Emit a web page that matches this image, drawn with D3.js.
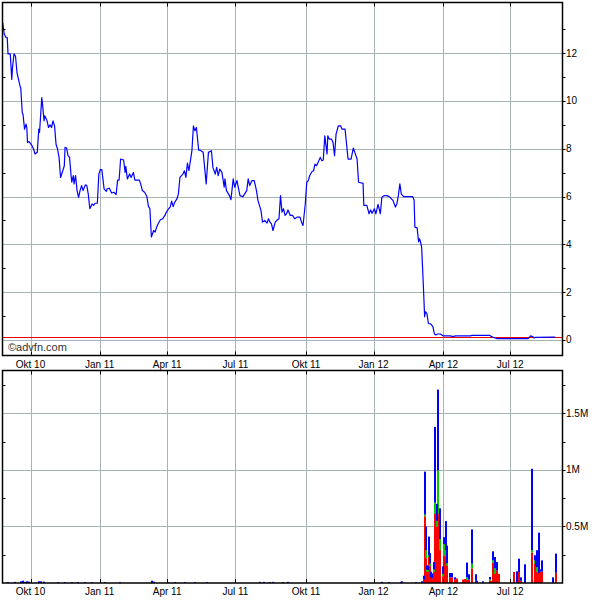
<!DOCTYPE html>
<html><head><meta charset="utf-8">
<script src="https://cdn.jsdelivr.net/npm/d3@7"></script>
<style>
body{margin:0;background:#fff}
svg{display:block}
text{font-family:"Liberation Sans",Arial,sans-serif;font-size:10px;fill:#000}
</style>
</head><body>
<svg id="c" width="600" height="600"></svg>
<script>
// ---------- DATA ----------
const tickDates  = ["2010-10-01","2011-01-01","2011-04-01","2011-07-01","2011-10-03","2012-01-01","2012-04-03","2012-07-01"];
const tickLabels = ["Okt 10","Jan 11","Apr 11","Jul 11","Okt 11","Jan 12","Apr 12","Jul 12"];
const priceTicks = [0,2,4,6,8,10,12];
const priceMinorTicks = [1,3,5,7,9,11,13];
const volTicks = [500,1000,1500];              // thousands of shares
const volTickLabels = ["0.5M","1M","1.5M"];
const volMinorTicks = [250,750,1250,1750];

const priceDates = [
"2010-08-25","2010-08-27","2010-08-29","2010-08-31",
"2010-09-01","2010-09-04","2010-09-06","2010-09-07","2010-09-09","2010-09-11","2010-09-13","2010-09-15","2010-09-17","2010-09-18","2010-09-20","2010-09-21","2010-09-23","2010-09-25","2010-09-26","2010-09-27","2010-09-29",
"2010-10-03","2010-10-05","2010-10-07","2010-10-10","2010-10-12","2010-10-13","2010-10-16","2010-10-17","2010-10-19","2010-10-20","2010-10-23","2010-10-25","2010-10-27","2010-10-29","2010-10-31",
"2010-11-02","2010-11-04","2010-11-06","2010-11-08","2010-11-10","2010-11-13","2010-11-15","2010-11-16","2010-11-18","2010-11-20","2010-11-22","2010-11-24","2010-11-25","2010-11-27","2010-11-28","2010-11-30",
"2010-12-02","2010-12-04","2010-12-06","2010-12-08","2010-12-10","2010-12-13","2010-12-15","2010-12-17","2010-12-19","2010-12-22","2010-12-24","2010-12-26","2010-12-29","2010-12-31",
"2011-01-02","2011-01-04","2011-01-07","2011-01-10","2011-01-11","2011-01-14","2011-01-17","2011-01-20","2011-01-23","2011-01-25","2011-01-27","2011-01-29",
"2011-02-02","2011-02-04","2011-02-05","2011-02-07","2011-02-10","2011-02-12","2011-02-15","2011-02-17","2011-02-23","2011-02-25","2011-02-27",
"2011-03-02","2011-03-05","2011-03-07","2011-03-09","2011-03-11","2011-03-14","2011-03-16","2011-03-18","2011-03-20","2011-03-23","2011-03-26","2011-03-29","2011-03-31",
"2011-04-03","2011-04-05","2011-04-07","2011-04-09","2011-04-11","2011-04-14","2011-04-16","2011-04-18","2011-04-22","2011-04-24","2011-04-26","2011-04-28","2011-04-30",
"2011-05-04","2011-05-06","2011-05-08","2011-05-10","2011-05-13","2011-05-15","2011-05-19","2011-05-23","2011-05-26","2011-05-30",
"2011-06-01","2011-06-04","2011-06-06","2011-06-08","2011-06-10","2011-06-13","2011-06-16","2011-06-17","2011-06-19","2011-06-23","2011-06-25","2011-06-28","2011-06-30",
"2011-07-03","2011-07-07","2011-07-11","2011-07-16","2011-07-18","2011-07-20","2011-07-23","2011-07-26","2011-07-29","2011-07-31",
"2011-08-04","2011-08-06","2011-08-09","2011-08-12","2011-08-14","2011-08-16","2011-08-18","2011-08-20","2011-08-23","2011-08-26","2011-08-28","2011-08-30",
"2011-09-01","2011-09-03","2011-09-05","2011-09-07","2011-09-09","2011-09-12","2011-09-15","2011-09-18","2011-09-21","2011-09-25","2011-09-27","2011-09-29",
"2011-10-02","2011-10-04","2011-10-06","2011-10-08","2011-10-11","2011-10-13","2011-10-15","2011-10-17","2011-10-19","2011-10-22","2011-10-24","2011-10-26","2011-10-28","2011-10-31",
"2011-11-01","2011-11-03","2011-11-06","2011-11-08","2011-11-10","2011-11-12","2011-11-15","2011-11-18","2011-11-20","2011-11-24","2011-11-28",
"2011-12-02","2011-12-05","2011-12-07","2011-12-10","2011-12-12","2011-12-18","2011-12-19","2011-12-23","2011-12-26","2011-12-28","2011-12-30",
"2012-01-02","2012-01-04","2012-01-07","2012-01-10","2012-01-12","2012-01-15","2012-01-19","2012-01-23","2012-01-27","2012-01-30",
"2012-02-01","2012-02-03","2012-02-05","2012-02-07","2012-02-10","2012-02-18","2012-02-22","2012-02-24","2012-02-25","2012-02-28",
"2012-03-01","2012-03-02","2012-03-03","2012-03-05","2012-03-07","2012-03-09","2012-03-10","2012-03-12","2012-03-14","2012-03-17","2012-03-20","2012-03-22","2012-03-24","2012-03-26","2012-03-30",
"2012-04-03","2012-04-12","2012-04-16","2012-04-19",
"2012-05-09","2012-05-11",
"2012-06-04","2012-06-06","2012-06-11","2012-06-13",
"2012-07-25","2012-07-28","2012-07-31",
"2012-08-02","2012-08-03","2012-08-30"
];
const priceValues = [
13.26,12.8,12.67,12.64,
11.97,11.97,10.9,11.4,11.97,11.87,11.18,10.9,10.63,10.53,9.51,9.44,8.82,9.03,8.89,8.26,8.3,
8.13,7.99,7.78,7.85,8.82,8.68,10.14,9.86,9.17,9.38,9.17,8.89,9.0,8.89,9.17,
8.96,8.19,7.99,7.64,6.8,7.08,7.29,8.06,8.03,7.71,7.64,6.88,6.6,6.88,6.53,6.88,
6.25,5.97,6.25,6.46,6.25,6.49,6.46,6.08,5.49,5.69,5.63,5.72,5.72,6.94,
7.13,7.13,6.32,6.22,6.32,6.35,6.15,6.18,6.08,6.69,6.69,7.57,
7.53,7.01,7.26,6.74,6.94,6.8,7.01,6.69,6.69,6.5,6.25,
6.18,6.0,5.6,5.49,4.31,4.58,4.51,4.72,4.86,5.03,5.07,5.21,5.35,
5.49,5.56,5.81,5.58,5.76,5.9,6.11,6.8,6.94,7.08,6.8,7.4,7.08,
7.92,8.96,8.75,8.89,7.94,7.94,7.85,6.53,7.85,7.92,
7.22,6.94,7.22,6.88,7.15,7.01,6.39,6.74,6.25,6.04,5.87,6.74,6.39,
6.67,6.04,6.0,6.25,6.74,6.46,6.67,6.67,6.25,5.83,
5.42,4.93,5.0,4.89,5.07,4.93,4.86,4.58,4.93,5.03,5.07,6.04,
5.35,5.49,5.21,5.28,5.44,5.21,5.21,5.07,5.14,5.14,4.93,4.79,
5.69,6.6,6.67,6.88,7.05,7.08,7.36,7.29,7.43,7.64,7.5,7.53,8.54,7.78,
8.54,8.4,8.4,8.26,7.71,8.61,8.96,8.96,8.82,8.82,7.57,
7.57,8.03,7.85,7.57,6.6,6.55,5.63,5.63,5.28,5.44,5.3,
5.49,5.28,5.67,5.28,5.97,6.04,6.04,5.97,5.83,5.56,
5.69,6.04,6.53,6.1,6.0,6.0,6.0,5.86,4.72,4.69,
4.1,4.24,4.17,3.89,2.5,0.97,1.18,1.11,0.69,0.67,0.56,0.25,0.21,0.25,0.25,
0.17,0.17,0.14,0.17,
0.17,0.19,
0.19,0.14,0.08,0.06,
0.06,0.17,0.14,
0.08,0.11,0.12
];

// volume (thousands of shares), stacked red / green / blue
const volDates = [
"2010-09-01","2010-09-10","2010-09-18","2010-09-21","2010-09-24","2010-09-26","2010-09-29","2010-10-12","2010-10-15","2010-10-19",
"2010-11-07","2010-11-16","2010-11-25","2010-12-03","2010-12-13","2010-12-22","2011-01-08","2011-01-28","2011-03-12","2011-03-14",
"2011-04-02","2011-04-11","2011-04-25","2011-05-08","2011-05-24","2011-08-03","2011-08-08","2011-08-16","2011-08-20","2011-09-02",
"2011-09-09","2012-01-12","2012-01-22","2012-02-07","2012-02-08","2012-02-26","2012-03-06",
"2012-03-08","2012-03-09","2012-03-11","2012-03-12","2012-03-13","2012-03-15","2012-03-16","2012-03-17","2012-03-19","2012-03-21",
"2012-03-23","2012-03-25","2012-03-27","2012-03-29","2012-03-30",
"2012-04-02","2012-04-04","2012-04-06","2012-04-08","2012-04-12","2012-04-14","2012-04-18","2012-04-21","2012-04-29",
"2012-05-02","2012-05-05","2012-05-07","2012-05-11","2012-05-16","2012-05-18","2012-05-26",
"2012-06-04","2012-06-06","2012-06-08","2012-06-10","2012-06-11","2012-06-14","2012-06-16",
"2012-07-06","2012-07-10","2012-07-13","2012-07-16","2012-07-21","2012-07-30",
"2012-08-03","2012-08-04","2012-08-06","2012-08-08","2012-08-10","2012-08-13","2012-08-27","2012-08-31"
];
const volRed = [
0,0,0,0,0,0,0,0,0,0, 0,0,0,0,0,0,0,0,0,0, 0,0,0,0,0,0,0,0,0,0, 0,0,0,0,0,0,0,
30,590,220,100,100,230,150,50,40,100,
610,500,615,530,290,
60,245,230,155,50,50,30,40,30,
35,30,30,130,20,5,0,
20,20,180,80,80,110,80,
97,0,97,20,0,270,
170,150,100,90,100,100,0,90
];
const volGreen = [
0,0,0,0,0,0,0,0,0,0, 0,0,0,0,0,0,0,0,0,0, 0,0,0,0,0,0,0,0,0,0, 0,0,0,0,0,0,0,
0,15,70,20,15,15,20,0,0,20,
100,50,380,30,100,
20,100,60,20,0,0,0,0,0,
0,20,0,40,0,0,0,
10,0,20,0,50,0,0,
0,0,0,0,0,20,
30,0,40,0,0,0,0,0
];
const volBlue = [
8,10,15,20,10,15,12,15,15,12, 8,8,8,8,8,8,8,8,20,12, 8,8,8,8,8,10,10,8,10,8, 10,10,8,10,15,8,15,
35,380,210,35,40,165,95,50,45,65,
670,150,715,95,270,
67,60,257,155,38,38,20,0,0,
0,130,47,304,57,15,15,
23,0,80,0,100,75,0,
0,103,118,30,165,720,
45,85,150,355,20,100,50,170
];

// ---------- DRAW ----------
const svg = d3.select("#c");
const parse = d3.utcParse("%Y-%m-%d");
const L = 2.5, R = 562.5, T1 = 2.5, B1 = 355.5, T2 = 370.5, B2 = 583;

const x = d3.scaleUtc().domain([parse("2010-08-24"), parse("2012-09-08")]).range([2, 562]);
const yP = d3.scaleLinear().domain([-0.65, 14.12]).range([B1, T1]);
const yV = d3.scaleLinear().domain([0, 1879]).range([B2, T2]);

const price = priceDates.map((d, i) => ({date: parse(d), v: priceValues[i]}));
const vol = volDates.map((d, i) => ({date: parse(d), r: volRed[i], g: volGreen[i], b: volBlue[i]}));
const ticks = tickDates.map((d, i) => ({date: parse(d), label: tickLabels[i]}));

const gridColor = "#a7b3b3";

// --- grids ---
function vGrid(top, bottom) {
  svg.append("g").selectAll("line").data(ticks).join("line")
    .attr("x1", d => Math.round(x(d.date)) + 0.5).attr("x2", d => Math.round(x(d.date)) + 0.5)
    .attr("y1", top).attr("y2", bottom)
    .attr("stroke", gridColor).attr("stroke-width", 1);
}
vGrid(T1, B1);
vGrid(T2, B2);
svg.append("g").selectAll("line").data(priceTicks).join("line")
  .attr("x1", L).attr("x2", R)
  .attr("y1", d => Math.round(yP(d)) + 0.5).attr("y2", d => Math.round(yP(d)) + 0.5)
  .attr("stroke", gridColor);
svg.append("g").selectAll("line").data(volTicks).join("line")
  .attr("x1", L).attr("x2", R)
  .attr("y1", d => Math.round(yV(d)) + 0.5).attr("y2", d => Math.round(yV(d)) + 0.5)
  .attr("stroke", gridColor);

// --- last price line ---
const last = price[price.length - 1].v;
svg.append("line").attr("x1", L).attr("x2", R)
  .attr("y1", Math.round(yP(last)) + 0.5).attr("y2", Math.round(yP(last)) + 0.5)
  .attr("stroke", "#ee0000").attr("stroke-width", 1);

// --- price line ---
svg.append("path").datum(price)
  .attr("fill", "none").attr("stroke", "#0000ff").attr("stroke-width", 1.2)
  .attr("stroke-linejoin", "round")
  .attr("d", d3.line().x(d => x(d.date)).y(d => yP(d.v)));

// --- volume bars (stacked) ---
const bw = 2;
const bx = d => Math.round(x(d.date)) - 1;
const vg = svg.append("g");
vg.selectAll("rect.r").data(vol).join("rect").attr("class", "r")
  .attr("x", bx).attr("width", bw)
  .attr("y", d => yV(d.r)).attr("height", d => yV(0) - yV(d.r))
  .attr("fill", "#ff0000");
vg.selectAll("rect.g").data(vol).join("rect").attr("class", "g")
  .attr("x", bx).attr("width", bw)
  .attr("y", d => yV(d.r + d.g)).attr("height", d => yV(d.r) - yV(d.r + d.g))
  .attr("fill", "#00cc00");
vg.selectAll("rect.b").data(vol).join("rect").attr("class", "b")
  .attr("x", bx).attr("width", bw)
  .attr("y", d => yV(d.r + d.g + d.b)).attr("height", d => yV(d.r + d.g) - yV(d.r + d.g + d.b))
  .attr("fill", "#0000ff");

// --- frames ---
function frame(top, bottom) {
  svg.append("rect").attr("x", L).attr("y", top).attr("width", R - L).attr("height", bottom - top)
    .attr("fill", "none").attr("stroke", "#000").attr("stroke-width", 1.5);
}
frame(T1, B1);
frame(T2, B2);

// --- x tick marks (inside, top & bottom of each panel) ---
function xTicks(top, bottom) {
  const g = svg.append("g").attr("stroke", "#000");
  g.selectAll("line.t").data(ticks).join("line").attr("class", "t")
    .attr("x1", d => Math.round(x(d.date)) + 0.5).attr("x2", d => Math.round(x(d.date)) + 0.5)
    .attr("y1", top).attr("y2", top + 4);
  g.selectAll("line.b").data(ticks).join("line").attr("class", "b")
    .attr("x1", d => Math.round(x(d.date)) + 0.5).attr("x2", d => Math.round(x(d.date)) + 0.5)
    .attr("y1", bottom - 4).attr("y2", bottom);
}
xTicks(T1, B1);
xTicks(T2, B2);

// --- x labels ---
svg.append("g").selectAll("text").data(ticks).join("text")
  .attr("x", d => x(d.date)).attr("y", 367.5).attr("text-anchor", "middle").text(d => d.label);
svg.append("g").selectAll("text").data(ticks).join("text")
  .attr("x", d => x(d.date)).attr("y", 594.5).attr("text-anchor", "middle").text(d => d.label);

// --- y ticks (right outward, left inward minors) ---
function yTicks(scale, major, minor) {
  const g = svg.append("g").attr("stroke", "#000");
  g.selectAll("line.mj").data(major.concat(minor)).join("line").attr("class", "mj")
    .attr("x1", R).attr("x2", R + 3)
    .attr("y1", d => Math.round(scale(d)) + 0.5).attr("y2", d => Math.round(scale(d)) + 0.5);
  g.selectAll("line.lf").data(minor).join("line").attr("class", "lf")
    .attr("x1", L).attr("x2", L + 3)
    .attr("y1", d => Math.round(scale(d)) + 0.5).attr("y2", d => Math.round(scale(d)) + 0.5);
}
yTicks(yP, priceTicks, priceMinorTicks);
yTicks(yV, volTicks, volMinorTicks);

svg.append("g").selectAll("text").data(priceTicks).join("text")
  .attr("x", 566).attr("y", d => yP(d)).attr("dy", "0.35em").text(d => d);
svg.append("g").selectAll("text").data(volTicks).join("text")
  .attr("x", 566).attr("y", d => yV(d)).attr("dy", "0.35em").text((d, i) => volTickLabels[i]);

// --- watermark ---
svg.append("text").attr("x", 8).attr("y", 351).style("font-size", "11px").style("fill", "#333")
  .text("\u00A9advfn.com");
</script>
</body></html>
